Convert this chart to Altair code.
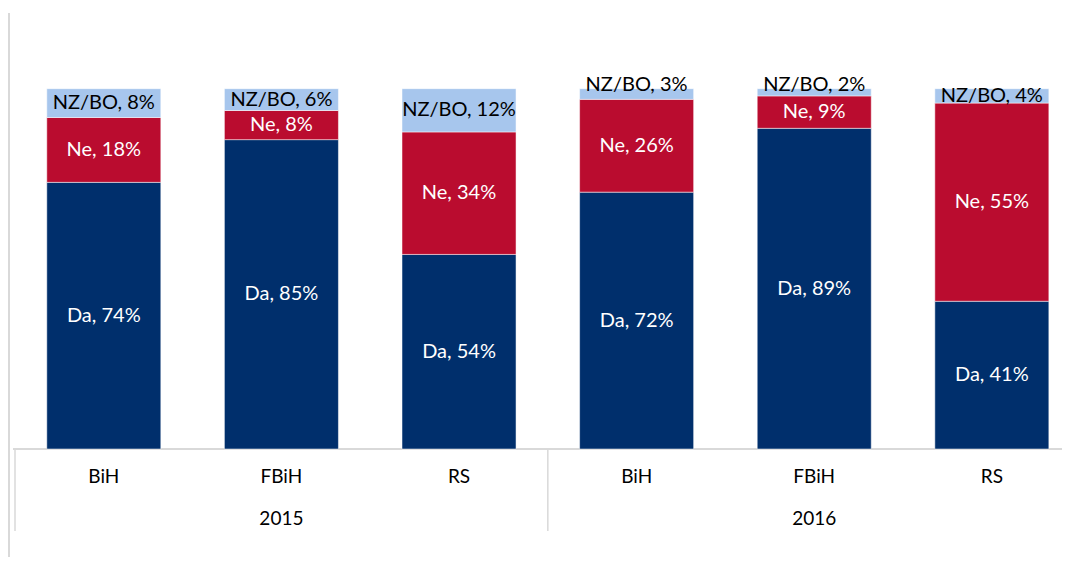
import altair as alt
import pandas as pd

# ---- data ----
years = ["2015", "2015", "2015", "2016", "2016", "2016"]
regions = ["BiH", "FBiH", "RS", "BiH", "FBiH", "RS"]
da = [74, 85, 54, 72, 89, 41]
ne = [18, 8, 34, 26, 9, 55]
nzbo = [8, 6, 12, 3, 2, 4]
series = ["Da", "Ne", "NZ/BO"]
colors = ["#002F6C", "#BA0C2F", "#A7C6ED"]

rows = []
for i, (yr, rg) in enumerate(zip(years, regions)):
    for k, (s, vals) in enumerate(zip(series, [da, ne, nzbo])):
        rows.append(dict(idx=i, year=yr, region=rg, series=s, order=k,
                         value=vals[i], label=f"{s}, {vals[i]}%"))
df = pd.DataFrame(rows)
cats = pd.DataFrame(dict(idx=list(range(len(regions))), region=regions, year=years))
bounds = pd.DataFrame(dict(b=[0, 3, 6]))

W, H = 1047, 436
HALF = 0.321
FONT = "Lato"
GRID = "#D9D9D9"

xs = alt.Scale(domain=[0, 5.895], nice=False, zero=False)
ys = alt.Scale(domain=[0, 1.21], nice=False, zero=True)

base = alt.Chart(df).transform_stack(
    stack="value", groupby=["idx"], sort=[alt.SortField("order")],
    as_=["v0", "v1"], offset="normalize"
).transform_calculate(
    xa=f"datum.idx + 0.5 - {HALF}", xb=f"datum.idx + 0.5 + {HALF}",
    xc="datum.idx + 0.5", vm="(datum.v0 + datum.v1) / 2",
    small="datum.series == 'NZ/BO' && datum.value < 4"
)

bars = base.mark_rect(stroke="white", strokeWidth=0.5).encode(
    x=alt.X("xa:Q", scale=xs, axis=None),
    x2="xb:Q",
    y=alt.Y("v0:Q", scale=ys, axis=None),
    y2="v1:Q",
    color=alt.Color("series:N", scale=alt.Scale(domain=series, range=colors), legend=None),
)

lab_color = alt.condition("datum.series == 'NZ/BO'", alt.value("#000000"), alt.value("#FFFFFF"))

labels = base.transform_filter("!datum.small").mark_text(
    font=FONT, fontSize=20, baseline="middle", align="center"
).encode(
    x=alt.X("xc:Q", scale=xs, axis=None),
    y=alt.Y("vm:Q", scale=ys, axis=None),
    text="label:N",
    color=lab_color,
)

small_labels = base.transform_filter("datum.small").mark_text(
    font=FONT, fontSize=20, baseline="alphabetic", align="center", dy=2
).encode(
    x=alt.X("xc:Q", scale=xs, axis=None),
    y=alt.Y("v1:Q", scale=ys, axis=None),
    text="label:N",
    color=lab_color,
)

catbase = alt.Chart(cats).transform_calculate(xc="datum.idx + 0.5")
cat_text = catbase.mark_text(font=FONT, fontSize=19, baseline="middle", color="#000000").encode(
    x=alt.X("xc:Q", scale=xs, axis=None),
    y=alt.value(H + 28),
    text="region:N",
)
year_text = catbase.transform_aggregate(c="mean(xc)", groupby=["year"]).mark_text(
    font=FONT, fontSize=19, baseline="middle", color="#000000"
).encode(
    x=alt.X("c:Q", scale=xs, axis=None),
    y=alt.value(H + 70),
    text="year:N",
)

baseline = alt.Chart(bounds).mark_rule(color=GRID, strokeWidth=1.5).encode(
    x=alt.value(-2), x2=alt.value(W + 20), y=alt.value(H)
)
seps = alt.Chart(bounds).mark_rule(color=GRID, strokeWidth=1.5).encode(
    x=alt.X("b:Q", scale=xs, axis=None), y=alt.value(H), y2=alt.value(H + 82)
)
frame = alt.Chart(bounds).mark_rule(color=GRID, strokeWidth=1.5).encode(
    x=alt.value(-6), y=alt.value(0), y2=alt.value(H + 120)
)

chart = alt.layer(frame, baseline, seps, bars, labels, small_labels, cat_text, year_text).properties(
    width=W, height=H,
    padding={"left": 7, "top": 5, "right": 0, "bottom": 108},
    autosize=alt.AutoSizeParams(type="none"),
).configure_view(stroke=None)

chart.save("out.html", embed_options={"renderer": "svg", "actions": False})
